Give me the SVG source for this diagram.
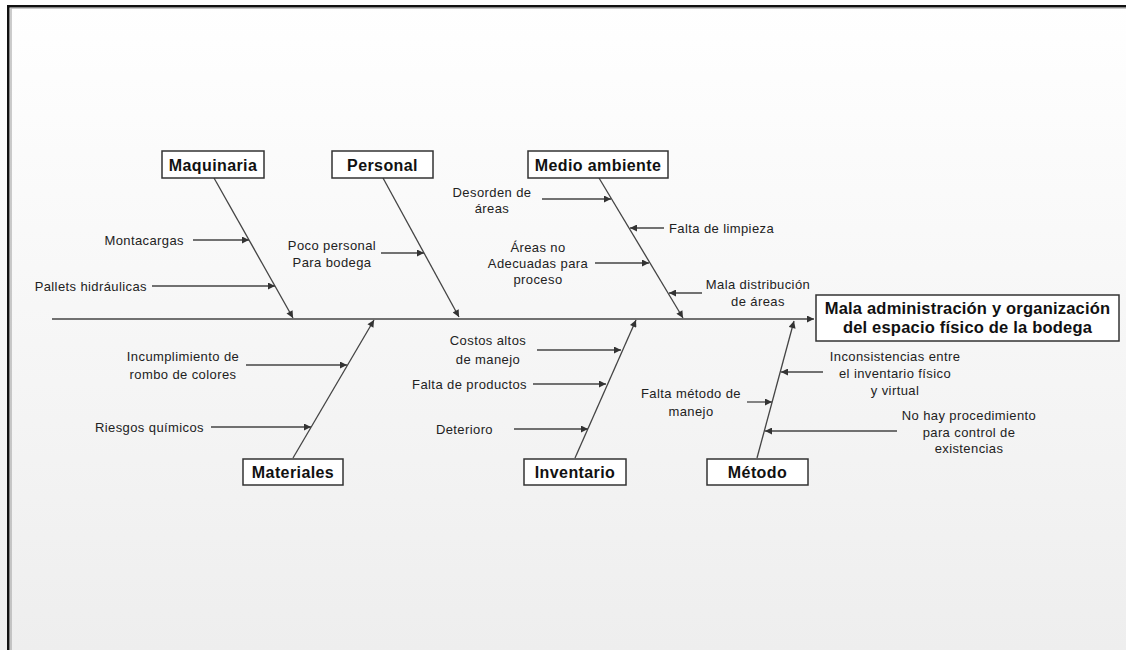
<svg xmlns="http://www.w3.org/2000/svg" width="1126" height="650" viewBox="0 0 1126 650">
<defs>
<linearGradient id="bg" x1="0" y1="0" x2="0" y2="1">
<stop offset="0" stop-color="#ffffff"/>
<stop offset="1" stop-color="#eeeeee"/>
</linearGradient>
<marker id="ah" viewBox="0 0 10 10" refX="10" refY="5" markerWidth="8" markerHeight="7" markerUnits="userSpaceOnUse" orient="auto">
<path d="M0,0 L10,5 L0,10 z" fill="#333"/>
</marker>
<style>
.ln{stroke:#444;stroke-width:1.3;fill:none}
.ar{stroke:#444;stroke-width:1.3;fill:none;marker-end:url(#ah)}
.box{fill:#fff;stroke:#333;stroke-width:1.5}
.cat{font-family:"Liberation Sans",Arial,sans-serif;font-weight:bold;font-size:16px;letter-spacing:0.4px;fill:#111;text-anchor:middle}
.eff{font-family:"Liberation Sans",Arial,sans-serif;font-weight:bold;font-size:16.5px;letter-spacing:0.2px;fill:#111;text-anchor:middle}
.t{font-family:"Liberation Sans",Arial,sans-serif;font-size:13px;letter-spacing:0.4px;fill:#222}
.c{text-anchor:middle}
.e{text-anchor:end}
</style>
</defs>
<rect x="0" y="0" width="1126" height="650" fill="url(#bg)"/>
<g id="frame">
<rect x="0" y="0" width="1126" height="5" fill="#fff"/>
<rect x="7" y="5" width="1119" height="2.5" fill="#111"/>
<rect x="7" y="5" width="2.5" height="645" fill="#111"/>
<line x1="11" y1="8" x2="11" y2="650" stroke="#999" stroke-width="1"/>
<line x1="11" y1="8.5" x2="1126" y2="8.5" stroke="#bbb" stroke-width="0.8"/>
</g>
<g id="connectors">
<line class="ar" x1="52" y1="319" x2="814" y2="319"/>
<line class="ar" x1="214" y1="178" x2="293" y2="318"/>
<line class="ar" x1="383" y1="178" x2="459" y2="317"/>
<line class="ar" x1="599" y1="178" x2="683" y2="318"/>
<line class="ar" x1="293" y1="458" x2="374" y2="320"/>
<line class="ar" x1="575" y1="458" x2="636" y2="320"/>
<line class="ar" x1="757" y1="458" x2="794" y2="321"/>
<line class="ar" x1="193" y1="240" x2="249" y2="240"/>
<line class="ar" x1="152" y1="286" x2="275" y2="286"/>
<line class="ar" x1="381" y1="253" x2="424" y2="253"/>
<line class="ar" x1="542" y1="199" x2="611" y2="199"/>
<line class="ar" x1="664" y1="228" x2="630" y2="228"/>
<line class="ar" x1="595" y1="263" x2="649" y2="263"/>
<line class="ar" x1="702" y1="293" x2="669" y2="293"/>
<line class="ar" x1="246" y1="365" x2="347" y2="365"/>
<line class="ar" x1="211" y1="427" x2="311" y2="427"/>
<line class="ar" x1="537" y1="350" x2="621" y2="350"/>
<line class="ar" x1="533" y1="384" x2="606" y2="384"/>
<line class="ar" x1="514" y1="429" x2="588" y2="429"/>
<line class="ar" x1="823" y1="372" x2="781" y2="372"/>
<line class="ar" x1="747" y1="402" x2="772" y2="402"/>
<line class="ar" x1="897" y1="431" x2="765" y2="431"/>
</g>
<g id="maquinaria">
<rect class="box" x="162" y="151" width="102" height="27"/>
<text class="cat" x="213" y="170.5">Maquinaria</text>
</g>
<g id="personal">
<rect class="box" x="332" y="151" width="101" height="27"/>
<text class="cat" x="382.5" y="170.5">Personal</text>
</g>
<g id="medio-ambiente">
<rect class="box" x="528" y="151" width="140" height="27"/>
<text class="cat" x="598" y="170.5">Medio ambiente</text>
</g>
<g id="materiales">
<rect class="box" x="243" y="459" width="100" height="26"/>
<text class="cat" x="293" y="478">Materiales</text>
</g>
<g id="inventario">
<rect class="box" x="524" y="459" width="102" height="26"/>
<text class="cat" x="575" y="478">Inventario</text>
</g>
<g id="metodo">
<rect class="box" x="707" y="459" width="101" height="26"/>
<text class="cat" x="757.5" y="478">Método</text>
</g>
<g id="efecto">
<rect class="box" x="816" y="295" width="303" height="46"/>
<text class="eff" x="967.5" y="314">Mala administración y organización</text>
<text class="eff" x="967.5" y="333">del espacio físico de la bodega</text>
</g>
<g id="causas">
<text class="t e" x="184" y="244.5">Montacargas</text>
<text class="t e" x="147" y="290.5">Pallets hidráulicas</text>
<text class="t c" x="332" y="249.5">Poco personal</text>
<text class="t c" x="332" y="266.5">Para bodega</text>
<text class="t c" x="492" y="196.5">Desorden de</text>
<text class="t c" x="492" y="212.5">áreas</text>
<text class="t" x="669" y="232.5">Falta de limpieza</text>
<text class="t c" x="538" y="251.5">Áreas no</text>
<text class="t c" x="538" y="267.5">Adecuadas para</text>
<text class="t c" x="538" y="283.5">proceso</text>
<text class="t c" x="758" y="288.5">Mala distribución</text>
<text class="t c" x="758" y="305.5">de áreas</text>
<text class="t c" x="183" y="360.5">Incumplimiento de</text>
<text class="t c" x="183" y="378.5">rombo de colores</text>
<text class="t e" x="204" y="431.5">Riesgos químicos</text>
<text class="t c" x="488" y="344.5">Costos altos</text>
<text class="t c" x="488" y="363.5">de manejo</text>
<text class="t e" x="527" y="388.5">Falta de productos</text>
<text class="t e" x="493" y="433.5">Deterioro</text>
<text class="t c" x="895" y="360.5">Inconsistencias entre</text>
<text class="t c" x="895" y="377.5">el inventario físico</text>
<text class="t c" x="895" y="394.5">y virtual</text>
<text class="t c" x="691" y="397.5">Falta método de</text>
<text class="t c" x="691" y="415.5">manejo</text>
<text class="t c" x="969" y="419.5">No hay procedimiento</text>
<text class="t c" x="969" y="436.5">para control de</text>
<text class="t c" x="969" y="452.5">existencias</text>
</g>
</svg>
